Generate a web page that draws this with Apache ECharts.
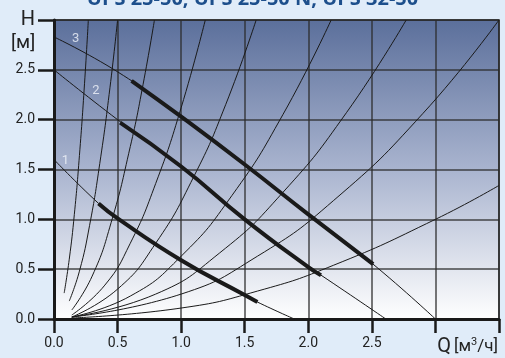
<!DOCTYPE html>
<html>
<head>
<meta charset="utf-8">
<script src="https://cdn.jsdelivr.net/npm/echarts@6/dist/echarts.min.js"></script>
<style>
  html, body { margin: 0; padding: 0; background: #e0ecf9; }
  #chart { width: 505px; height: 358px; }
</style>
</head>
<body>
<div id="chart"></div>
<script>
// pump curves, speed 1..3  [Q m3/h, H m]
var pump1 = [[0, 1.6], [0.35, 1.16], [0.5, 1.01], [1.0, 0.59], [1.5, 0.24], [1.6, 0.17], [1.89, 0]];
var pump2 = [[0, 2.5], [0.5, 2.0], [1.0, 1.53], [1.5, 1.0], [2.0, 0.52], [2.1, 0.44], [2.61, 0]];
var pump3 = [[0, 2.83], [0.5, 2.48], [1.0, 2.03], [1.5, 1.55], [2.0, 1.05], [2.5, 0.56], [3.0, 0]];
// working range (thick part)
var work1 = [[0.35, 1.16], [0.5, 1.01], [1.0, 0.59], [1.5, 0.24], [1.6, 0.17]];
var work2 = [[0.52, 1.97], [1.0, 1.53], [1.5, 1.0], [2.0, 0.52], [2.1, 0.44]];
var work3 = [[0.61, 2.39], [1.0, 2.03], [1.5, 1.55], [2.0, 1.05], [2.51, 0.55]];

// system curves (fan)
var sysA = [[0.08, 0.26], [0.12, 0.6], [0.16, 1.05], [0.2, 1.64], [0.24, 2.36], [0.27, 3.0]];
var sysB = [[0.12, 0.18], [0.2, 0.48], [0.28, 0.94], [0.36, 1.56], [0.44, 2.32], [0.5, 3.0]];
var sysC = [[0.14, 0.09], [0.3, 0.43], [0.45, 0.97], [0.6, 1.73], [0.7, 2.35], [0.79, 3.0]];
var sysD = [[0.14, 0.04], [0.4, 0.34], [0.6, 0.76], [0.8, 1.36], [1.0, 2.12], [1.19, 3.0]];
var sysE = [[0.14, 0.02], [0.5, 0.3], [0.8, 0.76], [1.1, 1.43], [1.35, 2.15], [1.59, 3.0]];
var sysF = [[0.14, 0.02], [0.6, 0.23], [1.0, 0.63], [1.4, 1.24], [1.8, 2.05], [2.18, 3.0]];
var sysG = [[0.14, 0.02], [0.8, 0.25], [1.3, 0.66], [1.8, 1.27], [2.3, 2.07], [2.77, 3.0]];
var sysH = [[0.14, 0.02], [1.0, 0.25], [1.6, 0.63], [2.2, 1.19], [2.9, 2.06], [3.5, 3.0]];
var sysI = [[0.14, 0.01], [1.0, 0.11], [1.6, 0.28], [2.2, 0.54], [3.0, 1.0], [3.5, 1.34]];

var curveLabels = [[0.17, 2.81, '3'], [0.33, 2.29, '2'], [0.09, 1.59, '1']];

var chart = echarts.init(document.getElementById('chart'));
var ink = '#1a1a1a';

var series = [];
[sysA, sysB, sysC, sysD, sysE, sysF, sysG, sysH, sysI].forEach(function (d) {
  series.push({ type: 'line', data: d, smooth: true, showSymbol: false, silent: true,
    lineStyle: { color: ink, width: 1 } });
});
[pump1, pump2, pump3].forEach(function (d) {
  series.push({ type: 'line', data: d, smooth: true, showSymbol: false, silent: true,
    lineStyle: { color: ink, width: 1 } });
});
[work1, work2, work3].forEach(function (d) {
  series.push({ type: 'line', data: d, smooth: true, showSymbol: false, silent: true,
    lineStyle: { color: ink, width: 4 } });
});
series.push({
  type: 'scatter', symbolSize: 0, silent: true,
  data: curveLabels.map(function (p) { return { value: [p[0], p[1]], name: p[2] }; }),
  label: { show: true, position: 'inside', formatter: '{b}', color: '#f0f4fa', fontSize: 13, fontFamily: 'Roboto' }
});

var option = {
  backgroundColor: '#e0ecf9',
  animation: false,
  textStyle: { fontFamily: 'Roboto' },
  title: {
    text: 'UPS 25-50, UPS 25-50 N, UPS 32-50',
    left: 'center', top: -16,
    textStyle: { color: '#1d4f8c', fontSize: 20, fontWeight: 'bold', fontFamily: 'Open Sans' }
  },
  graphic: [{
    type: 'text', left: 11, top: 34,
    style: { text: '[м]', font: '19px Roboto', fill: '#222' }
  }],
  grid: {
    left: 54, right: 6, top: 20, bottom: 39,
    show: true, borderColor: '#222', borderWidth: 1.5,
    backgroundColor: new echarts.graphic.LinearGradient(0, 0, 0, 1, [
      { offset: 0, color: '#5b6f9b' },
      { offset: 0.5, color: '#a9b4cf' },
      { offset: 1, color: '#ffffff' }
    ])
  },
  xAxis: {
    type: 'value', min: 0, max: 3.5, interval: 0.5,
    axisLine: { show: true, onZero: false, lineStyle: { color: ink, width: 3 } },
    axisTick: { show: true, length: 14, lineStyle: { color: ink, width: 2.5 } },
    axisLabel: {
      color: '#222', fontSize: 14, margin: 17,
      formatter: function (v) { return v >= 3 ? '' : v.toFixed(1); }
    },
    splitLine: { show: true, lineStyle: { color: '#2a2a2a', width: 1.5, opacity: 0.85 } },
    name: '{q|Q} {u|[м}{s|3}{u|/ч]}',
    nameLocation: 'end', nameGap: -1,
    nameTextStyle: {
      align: 'right', verticalAlign: 'top', padding: [18, 0, 0, 0],
      rich: {
        q: { fontSize: 20, color: '#222', fontFamily: 'Roboto' },
        u: { fontSize: 17, color: '#222', fontFamily: 'Roboto' },
        s: { fontSize: 11, color: '#222', fontFamily: 'Roboto', verticalAlign: 'top', padding: [0, 0, 7, 0] }
      }
    }
  },
  yAxis: {
    type: 'value', min: 0, max: 3, interval: 0.5,
    axisLine: { show: true, onZero: false, lineStyle: { color: ink, width: 3 } },
    axisTick: { show: true, length: 16, lineStyle: { color: ink, width: 2.5 } },
    axisLabel: {
      color: '#222', fontSize: 14, margin: 19,
      formatter: function (v) { return v === 3 ? '{h|H}' : v.toFixed(1); },
      rich: { h: { fontSize: 20, color: '#222', fontFamily: 'Roboto' } }
    },
    splitLine: { show: true, lineStyle: { color: '#2a2a2a', width: 1.5, opacity: 0.85 } }
  },
  series: series
};

chart.setOption(option);
</script>
</body>
</html>
